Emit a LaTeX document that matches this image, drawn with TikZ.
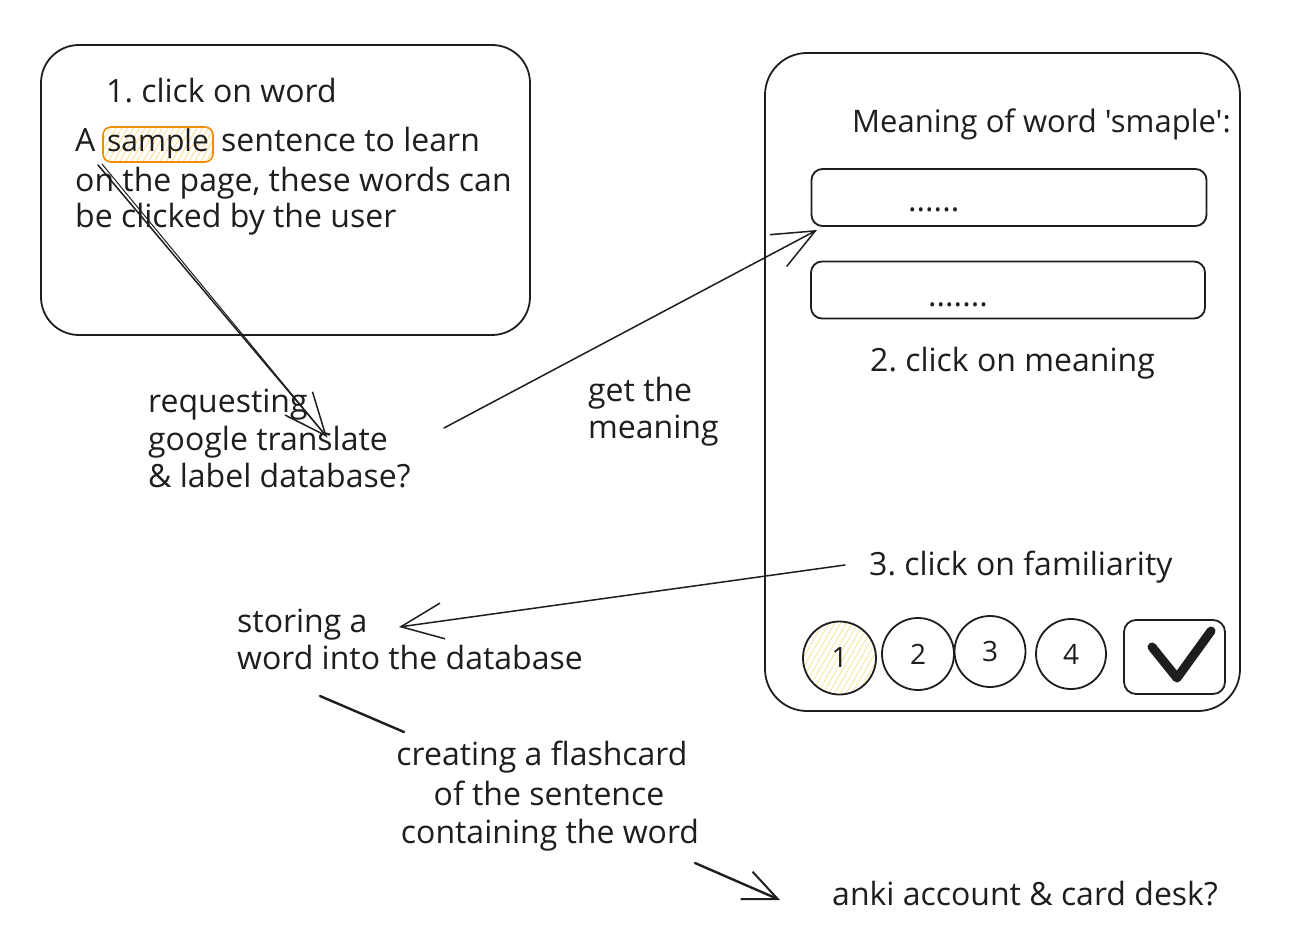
\documentclass[tikz,border=0pt]{standalone}
\usepackage{fontspec}
\setmainfont{Open Sans}
\newfontfamily\plainquote{Open Sans}[Ligatures=TeXOff]
\usetikzlibrary{arrows.meta,patterns.meta}
\definecolor{ink}{HTML}{1E1E1E}
\definecolor{orng}{HTML}{F08C00}
\definecolor{hatchY}{HTML}{F8E08E}
\definecolor{hatchO}{HTML}{FFD27A}
\frenchspacing
\begin{document}
\begin{tikzpicture}[x=1pt,y=-1pt,
  txt/.style={font=\fontsize{32}{38}\selectfont, inner sep=0pt, anchor=base west, text=ink},
  ctxt/.style={txt, anchor=base},
  rbox/.style={draw=ink, line width=1.8pt, rounded corners=#1, inner sep=0pt},
  circ/.style={circle, draw=ink, line width=1.8pt, minimum size=73pt, inner sep=0pt, font=\fontsize{28}{30}\selectfont, text=ink},
  conn/.style={draw=ink, line width=1.5pt, line cap=round, line join=round},
  arr/.style={conn, -{Straight Barb[length=42pt,width=36pt,line width=1.5pt]}},
  heavy/.style={draw=ink, line width=2.4pt, line cap=round, line join=round}
]
\useasboundingbox[fill=white] (0,0) rectangle (1309,949);

% ---------- left card ----------
\node[rbox=38pt, minimum width=489pt, minimum height=290pt] (card) at (285.5,190) {};
\node[txt] (step1) at (106,103) {1. click on word};
\node[txt] (wA) at (75,152) {A};
\node[draw=orng, line width=1.6pt, rounded corners=8pt, minimum width=110pt, minimum height=35pt, inner sep=0pt,
      pattern={Lines[angle=60,distance=5pt,line width=0.7pt]}, pattern color=hatchO] (sample) at (158,144.5) {};
\node[txt, anchor=base, font=\fontsize{30}{38}\selectfont] (sampletxt) at (158,152) {sample};
\node[txt] (l1) at (221,152) {sentence to learn};
\node[txt] (l2) at (75,191.5) {on the page, these words can};
\node[txt] (l3) at (75,228) {be clicked by the user};

% ---------- request text ----------
\node[txt] (r1) at (148,413) {requesting};
\node[txt] (r2) at (148,450) {google translate};
\node[txt] (r3) at (148,487) {\& label database?};

\node[txt] (g1) at (588,402) {get the};
\node[txt] (g2) at (588,438) {meaning};

% ---------- right card ----------
\node[rbox=42pt, minimum width=475pt, minimum height=658pt] (phone) at (1002.5,382) {};
\node[txt, font=\plainquote\fontsize{31}{38}\selectfont] (mean) at (852,133) {Meaning of word 'smaple':};
\node[rbox=11pt, minimum width=395pt, minimum height=57pt] (in1) at (1009,197.5) {};
\node[txt] (d1) at (908,212) {......};
\node[rbox=11pt, minimum width=394pt, minimum height=57pt] (in2) at (1008,290) {};
\node[txt] (d2) at (928,307) {.......};
\node[txt] (step2) at (870,372) {2. click on meaning};
\node[txt] (step3) at (869,575) {3. click on familiarity};

\node[circ, pattern={Lines[angle=60,distance=5pt,line width=0.7pt]}, pattern color=hatchY] (c1) at (839.5,658) {1};
\node[circ, minimum size=72pt] (c2) at (918,654) {2};
\node[circ, minimum size=71pt] (c3) at (990,651.5) {3};
\node[circ, minimum size=70pt] (c4) at (1071,654) {4};
\node[rbox=12pt, minimum width=101pt, minimum height=74pt] (ok) at (1174.5,657) {};
\coordinate (ck1) at (1152,647);
\coordinate (ck2) at (1177,678);
\coordinate (ck3) at (1211,631);
\draw[draw=ink, line width=9pt, line cap=round, line join=round] (ck1) -- (ck2) -- (ck3);

% ---------- lower texts ----------
\node[txt] (s1) at (237,632) {storing a};
\node[txt] (s2) at (237,669) {word into the database};
\node[ctxt] (f1) at (542,765) {creating a flashcard};
\node[ctxt] (f2) at (549,805.5) {of the sentence};
\node[ctxt] (f3) at (550,843) {containing the word};
\node[txt] (anki) at (832,905) {anki account \& card desk?};

% ---------- connectors ----------
\coordinate (a1s) at (98,165);
\coordinate (a1t) at (327,437);
\coordinate (a1b) at (102,164);
\draw[arr] (a1s) -- (a1t);
\draw[conn, line width=1pt] (a1b) -- (a1t);

\coordinate (a2s) at (444,428);
\coordinate (a2t) at (817,230);
\draw[arr] (a2s) -- (a2t);

\coordinate (a3s) at (845,565);
\coordinate (a3t) at (399,627);
\draw[arr] (a3s) -- (a3t);

\coordinate (l4s) at (320,696);
\coordinate (l4t) at (404,732);
\draw[heavy] (l4s) -- (l4t);

\coordinate (a5s) at (695,863);
\coordinate (a5t) at (780,900);
\draw[heavy, -{Straight Barb[length=34pt,width=30pt,line width=2pt]}] (a5s) -- (a5t);
\end{tikzpicture}
\end{document}
